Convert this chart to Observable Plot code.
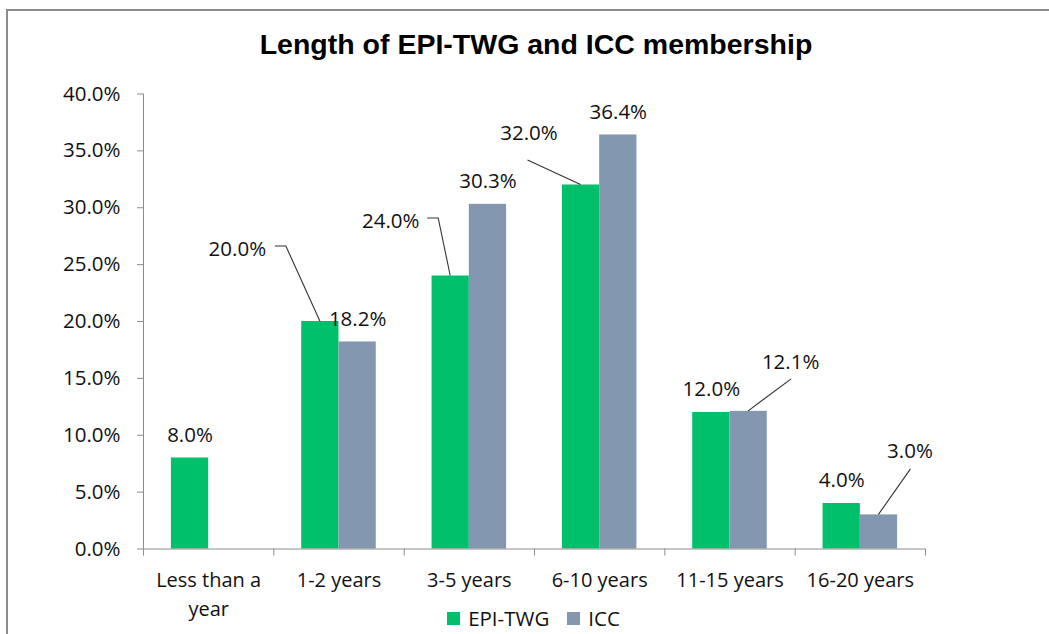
<!DOCTYPE html>
<html>
<head>
<meta charset="utf-8">
<script src="https://cdn.jsdelivr.net/npm/d3@7"></script>
<script src="https://cdn.jsdelivr.net/npm/@observablehq/plot@0.6"></script>
<style>
  html, body { margin: 0; padding: 0; background: #fff; }
  body { width: 1049px; height: 634px; overflow: hidden; position: relative; }
  #frame { position: absolute; left: 6px; top: 9px; width: 1100px; height: 700px; border: 2px solid #8c8c8c; box-sizing: border-box; }
  #title { position: absolute; left: 23px; width: 1026px; top: 27px; text-align: center;
           font: bold 28.5px "Liberation Sans", Arial, sans-serif; line-height: 34px; color: #000; white-space: nowrap; }
  #chart { position: absolute; left: 0; top: 70px; }
  #legend { position: absolute; left: 36px; width: 1013px; top: 604px; }
  .lg-swatches { justify-content: center !important; font: 20.5px "Open Sans", sans-serif !important; color: #111 !important; min-height: 26px !important; margin: 0 !important; }
  .lg-swatch { margin-right: 18px !important; }
  .lg-swatch > svg { margin-right: 8px !important; }
</style>
</head>
<body>
<div id="frame"></div>
<div id="title">Length of EPI-TWG and ICC membership</div>
<div id="chart"></div>
<div id="legend"></div>
<script>
// ---- data ----
const categories = ["Less than a\nyear", "1-2 years", "3-5 years", "6-10 years", "11-15 years", "16-20 years"];
const series = ["EPI-TWG", "ICC"];
const epiTwg = [8.0, 20.0, 24.0, 32.0, 12.0, 4.0];
const icc = [null, 18.2, 30.3, 36.4, 12.1, 3.0];
const yTicks = [0, 5, 10, 15, 20, 25, 30, 35, 40];
const colors = ["#00C06B", "#8497B0"];

// ---- style config (pixel offsets for callout labels, relative to bar top centre) ----
const barWidth = 0.286; // in category-band units
const callouts = {
  "EPI-TWG|1": {dx: -83, dy: -72, path: [[-45, -75], [-34, -75]]},
  "EPI-TWG|2": {dx: -60, dy: -54.5, path: [[-23, -57.5], [-12, -57.5]]},
  "EPI-TWG|3": {dx: -52, dy: -52, path: [[-53, -24.5]]},
  "ICC|4": {dx: 42, dy: -49, path: [[43, -32]]},
  "ICC|5": {dx: 31, dy: -63, path: [[32, -45.5]]}
};

const rows = [];
categories.forEach((c, i) => {
  [epiTwg, icc].forEach((arr, s) => {
    const v = arr[i];
    if (v == null) return;
    const name = series[s];
    const x1 = s === 0 ? i + 0.5 - barWidth : i + 0.5;
    const x2 = s === 0 ? i + 0.5 : i + 0.5 + barWidth;
    rows.push({i, series: name, value: v, x1, x2, xc: (x1 + x2) / 2, key: name + "|" + i, label: v.toFixed(1) + "%"});
  });
});

const plain = rows.filter(d => !callouts[d.key]);
const called = rows.filter(d => callouts[d.key]);

const labelFont = {fontFamily: "Open Sans, sans-serif", fontSize: 20.5, fill: "#111"};

const leaderMark = (index, scales) => {
  const g = d3.create("svg:g").attr("fill", "none").attr("stroke", "#333").attr("stroke-width", 1.1);
  for (const d of called) {
    const bx = scales.x(d.xc), by = scales.y(d.value);
    const pts = callouts[d.key].path.map(([dx, dy]) => [bx + dx, by + dy]).concat([[bx, by]]);
    g.append("polyline").attr("points", pts.map(p => p.join(",")).join(" "));
  }
  return g.node();
};

const marks = [
  Plot.rectY(rows, {x1: "x1", x2: "x2", y: "value", fill: "series"}),
  Plot.ruleX([0], {stroke: "#8c8c8c"}),
  Plot.ruleY([0], {stroke: "#8c8c8c"}),
  Plot.axisY({ticks: yTicks, tickSize: 6, tickPadding: 17, tickFormat: d => d.toFixed(1) + "%",
              stroke: "#8c8c8c", fill: "#111", fontFamily: "Open Sans, sans-serif", fontSize: 20.5, label: null}),
  Plot.axisX({ticks: d3.range(categories.length + 1), tickSize: 7, tickFormat: () => "", stroke: "#8c8c8c", label: null}),
  Plot.axisX({ticks: categories.map((c, i) => i + 0.5), tickSize: 0, tickPadding: 18,
              tickFormat: d => categories[Math.floor(d)], lineHeight: 1.43,
              fill: "#111", fontFamily: "Open Sans, sans-serif", fontSize: 20, label: null}),
  Plot.text(plain, {x: "xc", y: "value", text: "label", dy: -23, ...labelFont}),
  leaderMark
];
for (const d of called) {
  const c = callouts[d.key];
  marks.push(Plot.text([d], {x: "xc", y: "value", text: "label", dx: c.dx, dy: c.dy, ...labelFont}));
}

const chart = Plot.plot({
  width: 1049,
  height: 540,
  marginTop: 23.5,
  marginBottom: 61.5,
  marginLeft: 143,
  marginRight: 124,
  x: {type: "linear", domain: [0, categories.length]},
  y: {domain: [0, 40]},
  color: {domain: series, range: colors},
  style: {background: "transparent", overflow: "visible"},
  marks
});
document.getElementById("chart").appendChild(chart);

const legend = Plot.legend({color: {domain: series, range: colors}, legend: "swatches", swatchSize: 13, className: "lg"});
document.getElementById("legend").appendChild(legend);
</script>
</body>
</html>
